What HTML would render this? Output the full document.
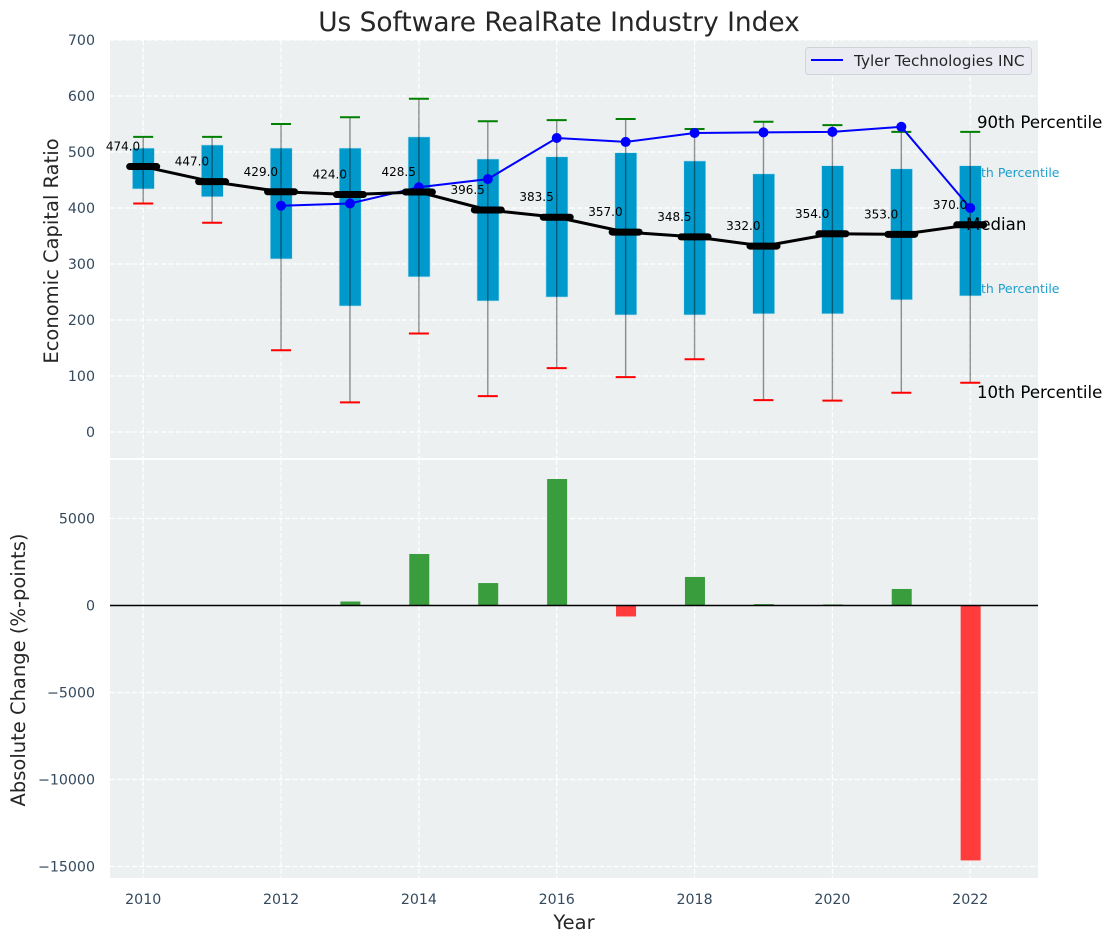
<!DOCTYPE html>
<html lang="en">
<head>
<meta charset="utf-8">
<title>Us Software RealRate Industry Index</title>
<style>
html,body{margin:0;padding:0;background:#fff;}
svg{display:block;font-family:"DejaVu Sans","Liberation Sans",sans-serif;}
</style>
</head>
<body>
<svg id="chart" xmlns="http://www.w3.org/2000/svg" width="1112" height="942" viewBox="0 0 1112 942">
  <rect x="0" y="0" width="1112" height="942" fill="#ffffff"/>
  <rect x="110" y="40" width="928" height="418" fill="#ecf0f1"/>
  <rect x="110" y="460" width="928" height="418" fill="#ecf0f1"/>
  <g id="grid"></g>
  <text x="1059.5" y="177" text-anchor="end" font-size="12.5" fill="#1a9fcf">75th Percentile</text>
  <text x="1059.5" y="293" text-anchor="end" font-size="12.5" fill="#1a9fcf">25th Percentile</text>
  <g id="bars"></g>
  <line x1="110" x2="1038" y1="605.5" y2="605.5" stroke="#000" stroke-width="1.4"/>
  <g id="boxes"></g>
  <g id="company"></g>
  <g id="medians"></g>
  <g id="ticks"></g>
  <text x="977" y="128" font-size="16.6" fill="#000">90th Percentile</text>
  <text x="966" y="230" font-size="16.6" fill="#000">Median</text>
  <text x="977" y="398" font-size="16.6" fill="#000">10th Percentile</text>
  <text x="559" y="31" text-anchor="middle" font-size="26.4" fill="#262626">Us Software RealRate Industry Index</text>
  <text transform="translate(58,251) rotate(-90)" text-anchor="middle" font-size="19.5" fill="#262626">Economic Capital Ratio</text>
  <text transform="translate(25,670) rotate(-90)" text-anchor="middle" font-size="19.5" fill="#262626">Absolute Change (%-points)</text>
  <text x="574" y="929" text-anchor="middle" font-size="19.5" fill="#262626">Year</text>
  <g>
    <rect x="805.5" y="47.5" width="226" height="27" rx="3" fill="#eaeaf2" stroke="#d2d3d8" stroke-width="1"/>
    <line x1="811" x2="843" y1="60" y2="60" stroke="#0000ff" stroke-width="2"/>
    <text x="854" y="66" font-size="15.3" fill="#262626">Tyler Technologies INC</text>
  </g>
</svg>
<script>
const years = [2010,2011,2012,2013,2014,2015,2016,2017,2018,2019,2020,2021,2022];
const p90 = [527,527,550,562,595,555,557,559,541,554,548,536,536];
const p75 = [507,512.5,507,507,527,487.5,491.5,498.7,484,461,475.5,470,475.5];
const medianValues = [474,447,429,424,428.5,396.5,383.5,357,348.5,332,354,353,370];
const p25 = [434,420,309,225,277,234,241,209,209,211,211,236,243];
const p10 = [408,373.7,146,53,176,64,114,98,130,57,56,70,88];
const companyYears = [2012,2013,2014,2015,2016,2017,2018,2019,2020,2021,2022];
const companyValues = [404,408,437,451.6,525,518,534,535,536,545,400];
const changeValues = [0,0,0,230,2960,1290,7270,-630,1640,80,60,950,-14650];
const topTicks = [0,100,200,300,400,500,600,700];
const bottomTicks = [5000,0,-5000,-10000,-15000];
const xTicks = [2010,2012,2014,2016,2018,2020,2022];

const NS = 'http://www.w3.org/2000/svg';
const xPos = v => 143.2 + (v - 2010) * 68.92;
const yTop = v => 432 - v * 0.56;
const yBottom = v => 605.5 - v * 0.0174;
function mk(parent, tag, attrs, txt) {
  const el = document.createElementNS(NS, tag);
  for (const k in attrs) el.setAttribute(k, attrs[k]);
  if (txt !== undefined) el.textContent = txt;
  parent.appendChild(el);
  return el;
}
const grid = document.getElementById('grid');
const ticks = document.getElementById('ticks');
const bars = document.getElementById('bars');
const boxes = document.getElementById('boxes');
const company = document.getElementById('company');
const medians = document.getElementById('medians');
const gridStyle = {stroke:'#ffffff','stroke-width':1.2,'stroke-dasharray':'5.1 2.2'};

xTicks.forEach(t => {
  const a = mk(grid, 'line', {x1:xPos(t),x2:xPos(t),y1:40,y2:458,...gridStyle});
  
  
  const b = mk(grid, 'line', {x1:xPos(t),x2:xPos(t),y1:460,y2:878,...gridStyle});
  
  
  const l = mk(ticks, 'text', {x:xPos(t),y:904,'text-anchor':'middle','font-size':14.2,fill:'#34495e'}, String(t));
  
  
});
topTicks.forEach(t => {
  const g = mk(grid, 'line', {x1:110,x2:1038,y1:yTop(t),y2:yTop(t),...gridStyle});
  
  
  const l = mk(ticks, 'text', {x:95,y:yTop(t)+5,'text-anchor':'end','font-size':14.2,fill:'#34495e'}, String(t));
  
  
});
bottomTicks.forEach(t => {
  const g = mk(grid, 'line', {x1:110,x2:1038,y1:yBottom(t),y2:yBottom(t),...gridStyle});
  
  
  const l = mk(ticks, 'text', {x:95,y:yBottom(t)+5,'text-anchor':'end','font-size':14.2,fill:'#34495e'}, String(t).replace('-', '\u2212'));
  
  
});

years.forEach((yr, i) => {
  const cx = xPos(yr);
  const v = changeValues[i];
  if (v !== 0) {
    const y0 = yBottom(0), y1 = yBottom(v);
    const bar = mk(bars, 'rect', {x:cx-9.6,y:Math.min(y0,y1),width:20,height:Math.abs(y1-y0),fill:v>0?'#399c3d':'#ff3b3b'});
    
    
  }
  const box = mk(boxes, 'rect', {x:cx-10.8,y:yTop(p75[i]),width:22,height:yTop(p25[i])-yTop(p75[i]),fill:'#0099cc',stroke:'#bfe3ef','stroke-width':0.6});
  
  
  const wh = mk(boxes, 'line', {x1:cx,x2:cx,y1:yTop(p90[i]),y2:yTop(p10[i]),stroke:'#000','stroke-opacity':0.42,'stroke-width':1.4});
  
  
  const capHi = mk(boxes, 'line', {x1:cx-10,x2:cx+10,y1:yTop(p90[i]),y2:yTop(p90[i]),stroke:'#008000','stroke-width':2});
  
  
  const capLo = mk(boxes, 'line', {x1:cx-10,x2:cx+10,y1:yTop(p10[i]),y2:yTop(p10[i]),stroke:'#ff0000','stroke-width':2});
  
  
});

const companyLine = mk(company, 'polyline', {points:companyYears.map((yr,i)=>xPos(yr)+','+yTop(companyValues[i])).join(' '),fill:'none',stroke:'#0000ff','stroke-width':2});


companyYears.forEach((yr, i) => {
  const dot = mk(company, 'circle', {cx:xPos(yr),cy:yTop(companyValues[i]),r:5,fill:'#0000ff'});
  
  
});

const medianLine = mk(medians, 'polyline', {points:years.map((yr,i)=>xPos(yr)+','+yTop(medianValues[i])).join(' '),fill:'none',stroke:'#000','stroke-width':3});


years.forEach((yr, i) => {
  const cx = xPos(yr), cy = yTop(medianValues[i]);
  const mark = mk(medians, 'line', {x1:cx-13.5,x2:cx+13.5,y1:cy,y2:cy,stroke:'#000','stroke-width':7,'stroke-linecap':'round'});
  
  
  const lab = mk(medians, 'text', {x:cx-3,y:cy-16,'text-anchor':'end','font-size':12,fill:'#000'}, medianValues[i].toFixed(1));
  
  
});
</script>
</body>
</html>
